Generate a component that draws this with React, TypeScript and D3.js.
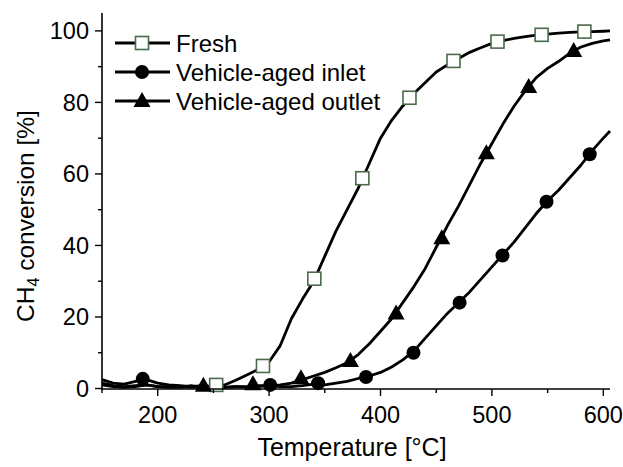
import React from 'react';
import * as d3 from 'd3';

// temperature grid for the traced curves [°C]
const temps = [150, 160, 170, 180, 190, 200, 210, 220, 230, 240, 250, 260, 270, 280, 290, 300, 310, 320, 330, 340,
  350, 360, 370, 380, 390, 400, 410, 420, 430, 440, 450, 460, 470, 480, 490, 500, 510, 520, 530, 540,
  550, 560, 570, 580, 590, 600, 606];

const fresh = [1.5, 0.8, 0.5, 0.8, 1.0, 0.5, 0.5, 0.3, 0.8, 0.3, 0.5, 1.0, 2.3, 3.8, 5.3, 7.5, 12, 19.5, 25, 30,
  37, 44, 50, 56, 63, 70, 75, 79, 82.5, 85.5, 88.5, 90.5, 92.3, 94, 95.3, 96.5, 97.3, 97.9, 98.4, 98.8,
  99.1, 99.4, 99.6, 99.7, 99.8, 99.9, 100];

const inlet = [2.5, 1.5, 1.2, 2.0, 2.5, 1.5, 1.0, 0.8, 0.5, 0.8, 0.5, 0.3, 0.5, 0.3, 0.5, 0.8, 0.5, 0.5, 0.8, 1.2,
  1.0, 1.5, 2.0, 2.8, 3.5, 4.5, 6.0, 8.0, 10.5, 14, 17.5, 21, 24, 27, 30.5, 34, 37.5, 41, 45, 49,
  52.5, 55.5, 59, 62.5, 66.5, 70, 72];

const outlet = [1.0, 0.5, 0.3, 0.5, 1.0, 0.5, 0.3, 0.5, 0.3, 0.5, 0.3, 0.3, 0.5, 0.5, 0.8, 0.8, 1.0, 1.5, 2.5, 3.5,
  4.5, 5.8, 7.2, 9.5, 12.5, 16, 19.5, 24, 28.5, 33.5, 39.5, 45.5, 51, 57, 63, 68.5, 74, 79, 83.3, 87,
  89.5, 91.5, 93.8, 95.5, 96.5, 97.2, 97.5];

// marker points [T, conversion]
const freshMarks: [number, number][] = [[252.5, 1], [294.5, 6.3], [340.6, 30.7], [383.7, 58.8], [426, 81.3],
  [465.5, 91.6], [505, 97], [544.6, 98.9], [583, 99.8]];
const inletMarks: [number, number][] = [[186.6, 2.7], [301, 1], [344, 1.5], [387, 3.2], [429.6, 10], [471, 24],
  [509.5, 37.2], [549, 52.2], [587.8, 65.5]];
const outletMarks: [number, number][] = [[241, 0.8], [285.5, 1.2], [328.6, 2.9], [373, 7.7], [414, 21], [455, 42],
  [495, 65.8], [533, 84.3], [573.4, 94.4]];

const xTicks = [200, 300, 400, 500, 600];
const xMinor = [150, 250, 350, 450, 550];
const yTicks = [0, 20, 40, 60, 80, 100];
const yMinor = [10, 30, 50, 70, 90];

const legendLabels = ['Fresh', 'Vehicle-aged inlet', 'Vehicle-aged outlet'];

const W = 623;
const H = 467;
const FONT = '"Liberation Sans", Arial, sans-serif';
const SQ = '#4b694b';

const App: React.FC = () => {
  const x = d3.scaleLinear().domain([150, 606]).range([102, 610]);
  const y = d3.scaleLinear().domain([0, 105]).range([388.5, 13]);

  const line = d3.line<[number, number]>()
    .x(d => x(d[0]))
    .y(d => y(d[1]));

  const toPts = (vals: number[]) => temps.map((t, i) => [t, vals[i]] as [number, number]);

  const square = (cx: number, cy: number, k: string) => (
    <rect key={k} x={cx - 6.5} y={cy - 6.5} width={13} height={13} fill="white" stroke={SQ} strokeWidth={1.6} />
  );
  const circle = (cx: number, cy: number, k: string) => (
    <circle key={k} cx={cx} cy={cy} r={7} fill="black" />
  );
  const tri = (cx: number, cy: number, k: string) => (
    <path key={k} d={`M${cx},${cy - 9} L${cx + 8.5},${cy + 6} L${cx - 8.5},${cy + 6} Z`} fill="black" />
  );

  const legendY = [43, 72, 101];

  return (
    <svg width={W} height={H} style={{ position: 'absolute', left: 0, top: 0, background: 'white' }}
      fontFamily={FONT}>
      {/* curves */}
      {[fresh, inlet, outlet].map((s, i) => (
        <path key={i} d={line(toPts(s)) ?? ''} fill="none" stroke="black" strokeWidth={2.8} strokeLinejoin="round" />
      ))}
      {freshMarks.map((d, i) => square(x(d[0]), y(d[1]), 'f' + i))}
      {inletMarks.map((d, i) => circle(x(d[0]), y(d[1]), 'i' + i))}
      {outletMarks.map((d, i) => tri(x(d[0]), y(d[1]), 'o' + i))}

      {/* axes */}
      <line x1={102} x2={102} y1={13} y2={389} stroke="black" strokeWidth={1.6} />
      <line x1={101} x2={610} y1={389} y2={389} stroke="black" strokeWidth={1.6} />
      {xTicks.map(t => (
        <g key={t}>
          <line x1={x(t)} x2={x(t)} y1={389} y2={396} stroke="black" strokeWidth={1.4} />
          <text x={x(t)} y={423} fontSize={23.5} textAnchor="middle">{t}</text>
        </g>
      ))}
      {xMinor.map(t => (
        <line key={t} x1={x(t)} x2={x(t)} y1={389} y2={393} stroke="black" strokeWidth={1.4} />
      ))}
      {yTicks.map(t => (
        <g key={t}>
          <line x1={95} x2={102} y1={y(t)} y2={y(t)} stroke="black" strokeWidth={1.4} />
          <text x={89} y={y(t) + 8.5} fontSize={23.5} textAnchor="end">{t}</text>
        </g>
      ))}
      {yMinor.map(t => (
        <line key={t} x1={98} x2={102} y1={y(t)} y2={y(t)} stroke="black" strokeWidth={1.4} />
      ))}

      <text x={352} y={456} fontSize={25} textAnchor="middle">Temperature [°C]</text>
      <text transform="translate(34,216) rotate(-90)" fontSize={24.5} textAnchor="middle">
        CH<tspan fontSize={16} dy={5}>4</tspan><tspan dy={-5}> conversion [%]</tspan>
      </text>

      {/* legend */}
      {legendLabels.map((lab, i) => (
        <g key={lab}>
          <line x1={115} x2={170} y1={legendY[i]} y2={legendY[i]} stroke="black" strokeWidth={2.8} />
          {i === 0 && square(142, legendY[i], 'l0')}
          {i === 1 && circle(142, legendY[i], 'l1')}
          {i === 2 && tri(142, legendY[i], 'l2')}
          <text x={176} y={legendY[i] + 8.5} fontSize={24}>{lab}</text>
        </g>
      ))}
    </svg>
  );
};

export default App;
